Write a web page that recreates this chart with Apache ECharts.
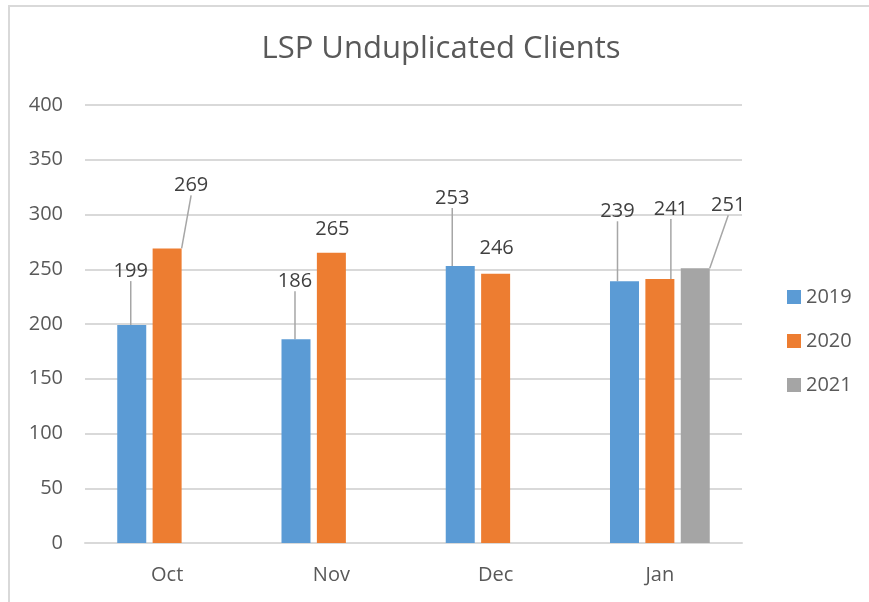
<!DOCTYPE html>
<html>
<head>
<meta charset="utf-8">
<script src="https://cdn.jsdelivr.net/npm/echarts@6/dist/echarts.min.js"></script>
<style>
  html, body { margin: 0; padding: 0; background: #fff; }
  #chart { width: 869px; height: 602px; }
</style>
</head>
<body>
<div id="chart"></div>
<script>
// data
const months = ['Oct', 'Nov', 'Dec', 'Jan']
const years = ['2019', '2020', '2021']
const clients2019 = [199, 186, 253, 239]
const clients2020 = [269, 265, 246, 241]
const clients2021 = ['-', '-', '-', 251]
const yTicks = { min: 0, max: 400, step: 50 }

const colors = ['#5B9BD5', '#ED7D31', '#A5A5A5']
const textColor = '#595959'
const font = 'Open Sans'

// where Excel dragged each data label (dx, dy from the default top spot), and whether a leader line shows
const labelMoves = [
  [[-1, -25, true], [-1, -29, true], [-8, -39, true], [-7, -41, true]],
  [[24, -34, true], [1, 5, false], [1, 4, false], [11, -41, true]],
  [null, null, null, [33, -34, true]]
]

function seriesData(vals, si) {
  return vals.map((v, i) => {
    const mv = labelMoves[si][i]
    return { value: v, labelLine: { show: !!(mv && mv[2]) } }
  })
}

const chart = echarts.init(document.getElementById('chart'))

chart.setOption({
  animation: false,
  color: colors,
  title: {
    text: 'LSP Unduplicated Clients',
    left: 436, top: 29, textAlign: 'center',
    textStyle: { fontFamily: font, fontSize: 31, fontWeight: 'normal', color: textColor }
  },
  legend: {
    orient: 'vertical',
    left: 782, top: 282,
    itemWidth: 14, itemHeight: 14, itemGap: 24,
    icon: 'rect',
    data: years,
    textStyle: { fontFamily: font, fontSize: 20, color: textColor }
  },
  grid: { left: 85, right: 127, top: 105, bottom: 59 },
  xAxis: {
    type: 'category',
    data: months,
    axisLine: { lineStyle: { color: '#D9D9D9', width: 2 } },
    axisTick: { show: false },
    axisLabel: { fontFamily: font, fontSize: 20, color: textColor, margin: 22 }
  },
  yAxis: {
    type: 'value',
    min: yTicks.min, max: yTicks.max, interval: yTicks.step,
    axisLine: { show: false },
    axisTick: { show: false },
    splitLine: { lineStyle: { color: '#D9D9D9', width: 2 } },
    axisLabel: { fontFamily: font, fontSize: 20, color: textColor, margin: 22 }
  },
  graphic: [{
    type: 'polyline',
    shape: { points: [[9, 602], [9, 6], [869, 6]] },
    style: { stroke: '#D9D9D9', lineWidth: 2, fill: null },
    silent: true
  }],
  series: [clients2019, clients2020, clients2021].map((vals, si) => ({
    name: years[si],
    type: 'bar',
    barWidth: 29,
    barGap: '22%',
    data: seriesData(vals, si),
    label: {
      show: true, position: 'top', distance: 5,
      fontFamily: font, fontSize: 20, color: '#404040',
      padding: [2, 2, 14, 2]
    },
    labelLine: { show: true, lineStyle: { color: '#A6A6A6', width: 1.5 } },
    labelLayout: p => {
      const mv = labelMoves[p.seriesIndex][p.dataIndex]
      return mv ? { dx: mv[0], dy: mv[1] } : {}
    }
  }))
})
</script>
</body>
</html>
